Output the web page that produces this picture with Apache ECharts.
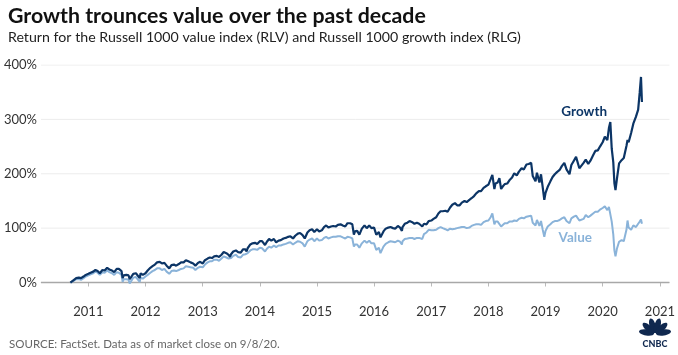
<!DOCTYPE html>
<html><head><meta charset="utf-8">
<script src="https://cdn.jsdelivr.net/npm/echarts@6/dist/echarts.min.js"></script>
<style>html,body{margin:0;padding:0;background:#fff}#c{width:678px;height:355px}</style>
</head><body><div id="c"></div>
<script>
const dates = ["2010-09-08","2010-09-15","2010-10-01","2010-10-15","2010-11-01","2010-11-15","2010-12-01","2010-12-15",
"2011-01-01","2011-01-15","2011-02-01","2011-02-15","2011-03-01","2011-03-15","2011-04-01","2011-04-15","2011-05-01","2011-05-15","2011-06-01","2011-06-15","2011-07-01","2011-07-08","2011-07-15","2011-08-01","2011-08-08","2011-08-15","2011-09-01","2011-09-15","2011-09-22","2011-10-03","2011-10-15","2011-11-01","2011-11-25","2011-12-01","2011-12-15",
"2012-01-01","2012-01-15","2012-02-01","2012-02-15","2012-03-01","2012-03-15","2012-04-01","2012-04-15","2012-05-01","2012-05-15","2012-06-01","2012-06-15","2012-07-01","2012-07-15","2012-08-01","2012-08-15","2012-09-01","2012-09-15","2012-10-01","2012-10-15","2012-11-01","2012-11-15","2012-12-01","2012-12-15",
"2013-01-01","2013-01-15","2013-02-01","2013-02-15","2013-03-01","2013-03-15","2013-04-01","2013-04-15","2013-05-01","2013-05-15","2013-06-01","2013-06-15","2013-06-24","2013-07-01","2013-07-15","2013-08-01","2013-08-15","2013-09-01","2013-09-15","2013-10-01","2013-10-08","2013-10-15","2013-11-01","2013-11-15","2013-12-01","2013-12-15",
"2014-01-01","2014-01-15","2014-02-03","2014-02-15","2014-03-01","2014-03-15","2014-04-01","2014-04-15","2014-05-01","2014-05-15","2014-06-01","2014-06-15","2014-07-01","2014-07-15","2014-08-01","2014-08-15","2014-09-01","2014-09-15","2014-10-01","2014-10-15","2014-11-01","2014-11-15","2014-12-01","2014-12-15",
"2015-01-01","2015-01-15","2015-02-01","2015-02-15","2015-03-01","2015-03-15","2015-04-01","2015-04-15","2015-05-01","2015-05-15","2015-06-01","2015-06-15","2015-07-01","2015-07-15","2015-08-01","2015-08-15","2015-08-25","2015-09-01","2015-09-15","2015-09-29","2015-10-15","2015-11-01","2015-11-15","2015-12-01","2015-12-15",
"2016-01-01","2016-01-15","2016-02-01","2016-02-11","2016-03-01","2016-03-15","2016-04-01","2016-04-15","2016-05-01","2016-05-15","2016-06-01","2016-06-15","2016-06-27","2016-07-01","2016-07-15","2016-08-01","2016-08-15","2016-09-01","2016-09-15","2016-10-01","2016-10-15","2016-11-04","2016-11-15","2016-12-01","2016-12-15",
"2017-01-01","2017-01-15","2017-02-01","2017-02-15","2017-03-01","2017-03-15","2017-04-01","2017-04-15","2017-05-01","2017-05-15","2017-06-01","2017-06-15","2017-07-01","2017-07-15","2017-08-01","2017-08-15","2017-09-01","2017-09-15","2017-10-01","2017-10-15","2017-11-01","2017-11-15","2017-12-01","2017-12-15",
"2018-01-01","2018-01-15","2018-01-26","2018-02-08","2018-02-15","2018-03-01","2018-03-12","2018-03-23","2018-04-01","2018-04-15","2018-05-01","2018-05-15","2018-06-01","2018-06-15","2018-07-01","2018-07-15","2018-08-01","2018-08-15","2018-09-01","2018-09-15","2018-10-01","2018-10-11","2018-10-29","2018-11-07","2018-11-23","2018-12-03","2018-12-14","2018-12-24",
"2019-01-01","2019-01-15","2019-02-01","2019-02-15","2019-03-01","2019-03-15","2019-04-01","2019-04-15","2019-05-01","2019-05-15","2019-06-03","2019-06-15","2019-07-01","2019-07-15","2019-08-05","2019-08-15","2019-09-01","2019-09-15","2019-10-01","2019-10-15","2019-11-01","2019-11-15","2019-12-01","2019-12-15",
"2020-01-01","2020-01-15","2020-01-31","2020-02-10","2020-02-19","2020-02-28","2020-03-09","2020-03-16","2020-03-23","2020-04-01","2020-04-15","2020-05-01","2020-05-15","2020-06-01","2020-06-08","2020-06-15","2020-07-01","2020-07-15","2020-08-01","2020-08-15","2020-08-25","2020-09-02","2020-09-08"];

const growth = [0,2,5,8,9,8,11,14,
16,18,20,23,21,17,23,22,27,24,22,19,25,28,25,21,8,13,14,13,6,4,16,17,8,17,14,
17,22,27,30,33,37,38,35,36,31,26,32,33,31,34,37,37,41,39,37,35,31,36,38,
35,41,44,46,45,48,49,47,51,56,54,51,47,52,57,59,56,55,61,61,57,63,70,72,73,71,
76,76,69,75,80,77,80,74,77,78,81,82,84,85,81,86,90,91,87,81,92,96,98,93,
98,94,96,102,105,101,103,104,103,106,107,105,103,109,109,107,88,94,95,88,99,105,100,105,100,
101,88,93,83,94,99,101,102,100,99,104,101,95,102,108,110,113,111,108,110,108,103,108,107,113,
114,117,120,127,131,131,132,130,138,143,146,142,142,147,150,148,152,155,159,164,168,168,174,177,
180,190,198,172,182,184,192,172,176,181,182,188,193,201,197,204,210,208,217,218,220,196,186,202,184,199,175,152,
165,176,186,194,199,203,207,214,220,208,199,216,224,231,210,213,220,226,218,224,234,242,243,250,
258,268,262,284,295,246,221,183,170,190,219,225,229,251,262,258,275,292,305,318,350,378,332];

const value = [0,1.5,3.5,6,6.5,5,8,11,
13,15,17,20,18,14,19,18,22,19,17,14,19,21,18,14,1,6,6,5,-2,-4,9,10,1,9,7,
11,14,18,21,23,26,26,23,25,20,16,21,22,21,23,25,26,30,29,28,27,23,27,29,
28,33,37,39,39,42,42,40,44,48,46,44,41,45,49,51,47,46,51,52,49,54,59,61,61,60,
64,63,57,62,66,64,68,65,68,68,70,71,73,74,70,73,76,75,72,66,76,79,81,76,
81,77,78,82,84,81,83,84,84,85,85,83,81,84,83,81,66,70,70,64,72,77,73,77,72,
72,60,64,54,66,71,74,76,75,74,77,75,70,76,80,81,82,82,80,82,82,80,89,92,97,
96,96,97,100,102,100,98,96,99,98,99,100,101,102,102,100,101,104,106,107,107,106,111,113,
114,120,127,107,112,112,115,103,106,109,109,112,112,114,113,117,119,118,121,122,123,110,105,115,104,113,97,84,
95,103,107,111,113,113,115,118,120,113,109,118,121,123,114,114,117,124,120,123,127,130,130,134,
137,140,133,139,141,112,88,59,48,62,75,78,76,97,114,101,97,105,102,108,112,116,108];

const yTicks = [0, 100, 200, 300, 400];
const xTickYears = [2011, 2012, 2013, 2014, 2015, 2016, 2017, 2018, 2019, 2020, 2021];

function ts(s) { const p = s.split('-').map(Number); return Date.UTC(p[0], p[1] - 1, p[2]); }
const YEAR = 365.25 * 86400000;
const xTicks = xTickYears.map(y => Date.UTC(y, 0, 1));
const xMin = xTicks[0] - 0.829 * YEAR;
const xMax = xTicks[xTicks.length - 1] + 0.166 * YEAR;

const FONT = 'Lato';
const NAVY = '#0c3566';
const LIGHT = '#8ab3d9';
const chart = echarts.init(document.getElementById('c'), null, { renderer: 'canvas' });

function logo() {
  const cx = 655, cy = 334, out = [];
  const angs = [-80, -48, -16, 16, 48, 80];
  angs.forEach(a => {
    const r = a * Math.PI / 180;
    out.push({ type: 'ellipse', shape: { cx: 0, cy: 0, rx: 3.1, ry: 7.6 },
      x: cx + Math.sin(r) * 8.6, y: cy - Math.cos(r) * 8.6, rotation: -r,
      style: { fill: '#10284f' } });
  });
  out.push({ type: 'text', x: 655, y: 340, style: { text: 'CNBC', fill: '#10284f', font: '900 9px ' + FONT, textAlign: 'center', textVerticalAlign: 'top' } });
  return out;
}

const gridSeries = yTicks.map(v => ({
  type: 'line', silent: true, showSymbol: false, z: 1, animation: false,
  data: [[xMin, v], [xMax, v]],
  lineStyle: v === 0 ? { color: '#a8a8a8', width: 1.5 } : { color: '#ececec', width: 1 }
}));

chart.setOption({
  animation: false,
  backgroundColor: '#fff',
  title: [
    { text: 'Growth trounces value over the past decade', left: 3, top: 1,
      textStyle: { fontFamily: FONT, fontSize: 21.3, fontWeight: 'bold', color: '#111' } },
    { text: 'Return for the Russell 1000 value index (RLV) and Russell 1000 growth index (RLG)', left: 3, top: 25,
      textStyle: { fontFamily: FONT, fontSize: 14.2, fontWeight: 'normal', color: '#222' } },
    { text: 'SOURCE: FactSet. Data as of market close on 9/8/20.', left: 4, top: 333,
      textStyle: { fontFamily: FONT, fontSize: 11.5, fontWeight: 'normal', color: '#666' } }
  ],
  grid: { left: 41, right: 7, top: 65, bottom: 58, containLabel: false },
  xAxis: {
    type: 'value', min: xMin, max: xMax,
    axisLine: { show: true, lineStyle: { color: '#e6e6e6', width: 1 } },
    axisTick: { show: true, customValues: xTicks, length: 4, lineStyle: { color: '#bbb' } },
    axisLabel: { customValues: xTicks, color: '#333', fontFamily: FONT, fontSize: 13, margin: 8,
      formatter: v => String(new Date(v).getUTCFullYear()) },
    splitLine: { show: false }
  },
  yAxis: {
    type: 'value', min: -26.65, max: 400,
    axisLine: { show: false }, axisTick: { show: false }, splitLine: { show: false },
    axisLabel: { show: true, customValues: yTicks, formatter: '{value}%', color: '#333', fontFamily: FONT, fontSize: 13, margin: 4 }
  },
  graphic: logo(),
  series: gridSeries.concat([
    { name: 'Value', type: 'line', showSymbol: false, z: 10,
      data: dates.map((d, i) => [ts(d), value[i]]),
      lineStyle: { color: LIGHT, width: 2 },
      markPoint: { symbol: 'circle', symbolSize: 0, silent: true, z: 12,
        data: [{ coord: [ts('2019-07-10'), 82], label: { show: true, position: 'inside', formatter: 'Value', color: LIGHT, fontFamily: FONT, fontWeight: 'bold', fontSize: 13.5 } }] } },
    { name: 'Growth', type: 'line', showSymbol: false, z: 11,
      data: dates.map((d, i) => [ts(d), growth[i]]),
      lineStyle: { color: NAVY, width: 2.2 },
      markPoint: { symbol: 'circle', symbolSize: 0, silent: true, z: 12,
        data: [{ coord: [ts('2019-09-05'), 315], label: { show: true, position: 'inside', formatter: 'Growth', color: NAVY, fontFamily: FONT, fontWeight: 'bold', fontSize: 13.5 } }] } }
  ])
});
</script></body></html>
